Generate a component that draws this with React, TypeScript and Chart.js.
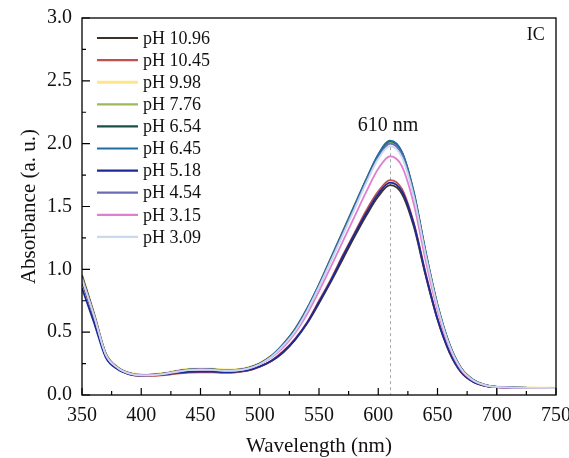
import React, { useEffect, useRef } from "react";
import { Chart, registerables } from "chart.js";
Chart.register(...registerables);

const wavelengths = [350, 360, 370, 380, 390, 400, 410, 420, 430, 440, 450, 460, 470, 480, 490, 500, 510, 520, 530, 540, 550, 560, 570, 580, 590, 600, 610, 620, 630, 640, 650, 660, 670, 680, 690, 700, 710, 720, 730, 740, 750];

const phLabels = ["pH 10.96", "pH 10.45", "pH 9.98", "pH 7.76", "pH 6.54", "pH 6.45", "pH 5.18", "pH 4.54", "pH 3.15", "pH 3.09"];
const phColors = ["#3d3029", "#c0504d", "#ffe68a", "#9bbb59", "#1b4f47", "#1f6fa5", "#1a2a9a", "#6a6db5", "#e07fcf", "#c9daf0"];

const ph1096 = [0.90, 0.62, 0.31, 0.21, 0.168, 0.155, 0.157, 0.163, 0.175, 0.183, 0.185, 0.184, 0.180, 0.183, 0.195, 0.225, 0.27, 0.34, 0.44, 0.57, 0.73, 0.90, 1.08, 1.26, 1.43, 1.58, 1.67, 1.60, 1.34, 0.95, 0.60, 0.34, 0.18, 0.105, 0.072, 0.062, 0.058, 0.056, 0.055, 0.055, 0.054];
const ph1045 = [0.92, 0.63, 0.31, 0.21, 0.165, 0.152, 0.152, 0.158, 0.170, 0.178, 0.180, 0.180, 0.176, 0.180, 0.193, 0.225, 0.275, 0.35, 0.45, 0.58, 0.75, 0.92, 1.11, 1.29, 1.47, 1.62, 1.71, 1.64, 1.37, 0.97, 0.61, 0.35, 0.185, 0.107, 0.073, 0.062, 0.058, 0.056, 0.055, 0.055, 0.054];
const ph998 = [0.96, 0.66, 0.335, 0.225, 0.178, 0.163, 0.165, 0.176, 0.195, 0.208, 0.211, 0.21, 0.203, 0.205, 0.22, 0.255, 0.315, 0.405, 0.53, 0.69, 0.88, 1.09, 1.30, 1.51, 1.715, 1.905, 2.01, 1.925, 1.61, 1.14, 0.72, 0.41, 0.215, 0.123, 0.082, 0.066, 0.061, 0.059, 0.058, 0.057, 0.056];
const ph776 = [0.95, 0.65, 0.33, 0.22, 0.175, 0.16, 0.162, 0.172, 0.19, 0.203, 0.206, 0.205, 0.198, 0.20, 0.215, 0.25, 0.31, 0.40, 0.52, 0.68, 0.87, 1.08, 1.29, 1.50, 1.71, 1.90, 2.01, 1.92, 1.60, 1.13, 0.71, 0.40, 0.21, 0.12, 0.08, 0.065, 0.06, 0.058, 0.057, 0.056, 0.055];
const ph654 = [0.95, 0.65, 0.33, 0.22, 0.174, 0.159, 0.161, 0.171, 0.189, 0.202, 0.205, 0.204, 0.197, 0.199, 0.214, 0.25, 0.31, 0.405, 0.525, 0.685, 0.875, 1.085, 1.295, 1.505, 1.715, 1.91, 2.02, 1.93, 1.61, 1.135, 0.715, 0.405, 0.212, 0.121, 0.08, 0.065, 0.06, 0.058, 0.057, 0.056, 0.055];
const ph645 = [0.94, 0.645, 0.33, 0.22, 0.174, 0.159, 0.161, 0.171, 0.189, 0.202, 0.205, 0.204, 0.197, 0.199, 0.214, 0.25, 0.312, 0.407, 0.528, 0.69, 0.88, 1.09, 1.30, 1.51, 1.72, 1.915, 2.025, 1.935, 1.615, 1.14, 0.718, 0.407, 0.213, 0.121, 0.08, 0.065, 0.06, 0.058, 0.057, 0.056, 0.055];
const ph518 = [0.85, 0.58, 0.30, 0.205, 0.165, 0.155, 0.158, 0.165, 0.177, 0.185, 0.187, 0.186, 0.182, 0.185, 0.197, 0.228, 0.273, 0.345, 0.445, 0.575, 0.74, 0.91, 1.10, 1.28, 1.45, 1.60, 1.69, 1.62, 1.36, 0.96, 0.605, 0.345, 0.183, 0.106, 0.073, 0.062, 0.058, 0.056, 0.055, 0.055, 0.054];
const ph454 = [0.93, 0.64, 0.325, 0.218, 0.172, 0.157, 0.159, 0.169, 0.187, 0.2, 0.203, 0.202, 0.195, 0.197, 0.212, 0.247, 0.307, 0.397, 0.515, 0.675, 0.865, 1.07, 1.28, 1.49, 1.70, 1.89, 2.00, 1.91, 1.59, 1.12, 0.705, 0.397, 0.208, 0.119, 0.079, 0.064, 0.06, 0.058, 0.057, 0.056, 0.055];
const ph315 = [0.93, 0.64, 0.325, 0.218, 0.172, 0.158, 0.16, 0.17, 0.187, 0.2, 0.203, 0.202, 0.195, 0.197, 0.21, 0.243, 0.30, 0.38, 0.495, 0.645, 0.825, 1.02, 1.22, 1.42, 1.62, 1.80, 1.90, 1.82, 1.52, 1.07, 0.675, 0.38, 0.20, 0.115, 0.077, 0.063, 0.059, 0.057, 0.056, 0.055, 0.055];
const ph309 = [0.92, 0.635, 0.322, 0.216, 0.17, 0.156, 0.158, 0.168, 0.185, 0.198, 0.201, 0.2, 0.193, 0.195, 0.21, 0.245, 0.305, 0.395, 0.51, 0.67, 0.86, 1.065, 1.27, 1.48, 1.69, 1.88, 1.98, 1.89, 1.58, 1.115, 0.70, 0.395, 0.207, 0.118, 0.079, 0.064, 0.06, 0.058, 0.057, 0.056, 0.055];

const seriesValues = [ph1096, ph1045, ph998, ph776, ph654, ph645, ph518, ph454, ph315, ph309];

const xMajorTicks = [350, 400, 450, 500, 550, 600, 650, 700, 750];
const xMinorTicks = [375, 425, 475, 525, 575, 625, 675, 725];
const yMajorTicks = [0, 0.5, 1.0, 1.5, 2.0, 2.5, 3.0];
const yMinorTicks = [0.25, 0.75, 1.25, 1.75, 2.25, 2.75];

const peakWavelength = 610;
const peakLabel = "610 nm";
const sampleLabel = "IC";

const FONT = "'Liberation Serif', 'Times New Roman', serif";

const decorPlugin = {
  id: "decor",
  beforeDatasetsDraw(chart: any) {
    const { ctx, chartArea: a, scales } = chart;
    const x = scales.x;
    const y = scales.y;
    ctx.save();
    ctx.strokeStyle = "#a8a8a8";
    ctx.lineWidth = 1;
    ctx.setLineDash([3, 3]);
    const px = Math.round(x.getPixelForValue(peakWavelength)) + 0.5;
    ctx.beginPath();
    ctx.moveTo(px, y.getPixelForValue(2.02));
    ctx.lineTo(px, a.bottom);
    ctx.stroke();
    ctx.setLineDash([]);
    ctx.strokeStyle = "#909090";
    ctx.lineWidth = 1.5;
    const p7 = x.getPixelForValue(700);
    ctx.beginPath();
    ctx.moveTo(p7, y.getPixelForValue(0.065));
    ctx.lineTo(p7, a.bottom);
    ctx.stroke();
    ctx.restore();
  },
  afterDraw(chart: any) {
    const { ctx, chartArea: a, scales } = chart;
    const x = scales.x;
    const y = scales.y;
    ctx.save();
    ctx.strokeStyle = "#000";
    ctx.lineWidth = 1.3;
    ctx.strokeRect(a.left, a.top, a.right - a.left, a.bottom - a.top);
    ctx.lineWidth = 1.2;
    ctx.beginPath();
    for (const v of xMajorTicks) {
      const p = x.getPixelForValue(v);
      ctx.moveTo(p, a.bottom);
      ctx.lineTo(p, a.bottom - 7);
    }
    for (const v of xMinorTicks) {
      const p = x.getPixelForValue(v);
      ctx.moveTo(p, a.bottom);
      ctx.lineTo(p, a.bottom - 4);
    }
    for (const v of yMajorTicks) {
      const p = y.getPixelForValue(v);
      ctx.moveTo(a.left, p);
      ctx.lineTo(a.left + 8, p);
    }
    for (const v of yMinorTicks) {
      const p = y.getPixelForValue(v);
      ctx.moveTo(a.left, p);
      ctx.lineTo(a.left + 4, p);
    }
    ctx.stroke();

    ctx.fillStyle = "#111";
    ctx.font = `20px ${FONT}`;
    ctx.textAlign = "center";
    ctx.textBaseline = "middle";
    ctx.fillText(peakLabel, x.getPixelForValue(peakWavelength) - 2, y.getPixelForValue(2.14));
    ctx.font = `18px ${FONT}`;
    ctx.fillText(sampleLabel, x.getPixelForValue(733), y.getPixelForValue(2.86));

    // legend
    const ds = chart.data.datasets;
    ctx.font = `18px ${FONT}`;
    ctx.textAlign = "left";
    for (let i = 0; i < ds.length; i++) {
      const ly = a.top + 20 + i * 22.1;
      ctx.strokeStyle = ds[i].borderColor;
      ctx.lineWidth = i === 2 ? 3 : 2.2;
      ctx.beginPath();
      ctx.moveTo(a.left + 15, ly);
      ctx.lineTo(a.left + 56, ly);
      ctx.stroke();
      ctx.fillStyle = "#111";
      ctx.fillText(ds[i].label, a.left + 61, ly + 1);
    }
    ctx.restore();
  },
};

export default function App() {
  const ref = useRef<HTMLCanvasElement | null>(null);
  useEffect(() => {
    if (!ref.current) return;
    const n = phLabels.length;
    const datasets = phLabels.map((label, i) => ({
      label,
      data: wavelengths.map((w, j) => ({ x: w, y: seriesValues[i][j] })),
      borderColor: phColors[i],
      backgroundColor: phColors[i],
      borderWidth: i === 2 ? 2.2 : 1.8,
      pointRadius: 0,
      order: n - i,
      cubicInterpolationMode: "monotone" as const,
      fill: false,
    }));
    const chart = new Chart(ref.current, {
      type: "line",
      data: { datasets },
      options: {
        animation: false,
        responsive: false,
        devicePixelRatio: 1,
        layout: { padding: { top: 18, right: 13, left: 0, bottom: 0 } },
        plugins: { legend: { display: false }, tooltip: { enabled: false } },
        scales: {
          x: {
            type: "linear",
            min: 350,
            max: 750,
            afterFit: (s: any) => { s.height = 63; s.paddingLeft = 0; s.paddingRight = 0; s.paddingTop = 0; s.paddingBottom = 0; },
            grid: { display: false, drawTicks: false },
            border: { display: false },
            ticks: { stepSize: 50, padding: 9, color: "#111", font: { family: FONT, size: 20 } },
            title: { display: true, text: "Wavelength (nm)", color: "#111", font: { family: FONT, size: 21, lineHeight: 1.0 }, padding: { top: 0, bottom: 1 } },
          },
          y: {
            type: "linear",
            min: 0,
            max: 3,
            afterFit: (s: any) => { s.width = 82; s.paddingLeft = 0; s.paddingRight = 0; s.paddingTop = 0; s.paddingBottom = 0; },
            grid: { display: false, drawTicks: false },
            border: { display: false },
            ticks: { stepSize: 0.5, padding: 10, color: "#111", font: { family: FONT, size: 20 }, callback: (v: any) => Number(v).toFixed(1) },
            title: { display: true, text: "Absorbance (a. u.)", color: "#111", font: { family: FONT, size: 21 }, padding: { top: 17, bottom: 0 } },
          },
        },
      },
      plugins: [decorPlugin],
    });
    return () => chart.destroy();
  }, []);
  return (
    <div style={{ position: "absolute", left: 0, top: 0, width: 569, height: 458, background: "#fff" }}>
      <canvas ref={ref} width={569} height={458} />
    </div>
  );
}
